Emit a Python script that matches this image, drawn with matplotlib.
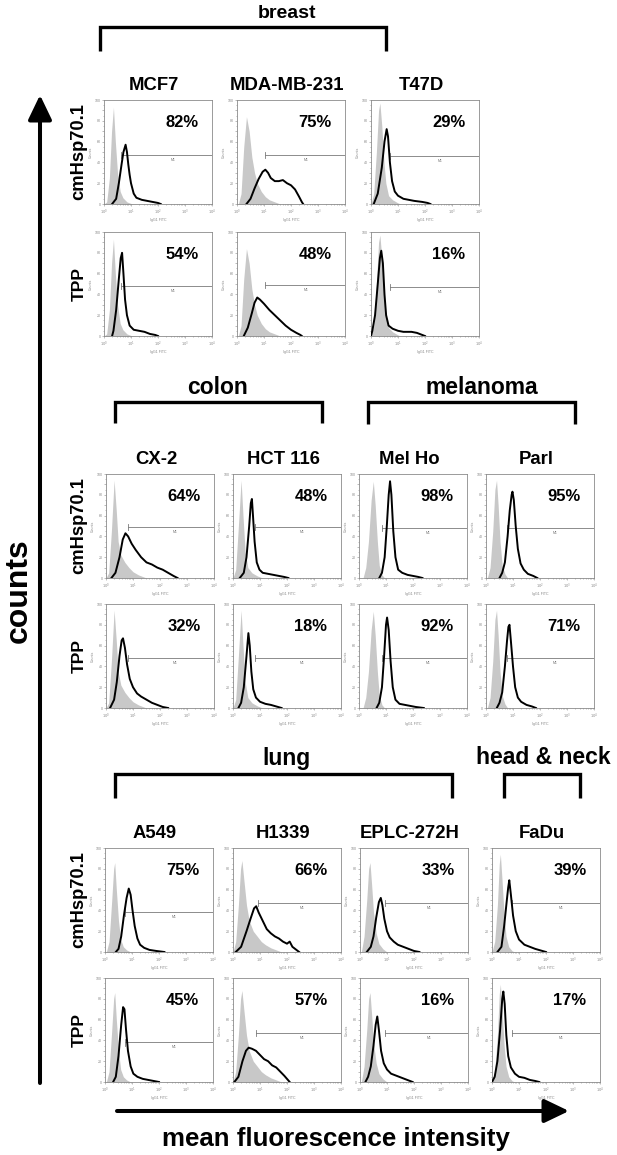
import matplotlib.pyplot as plt
from matplotlib.ticker import FixedLocator, LogLocator, NullFormatter

plt.rcParams['font.family'] = ['Liberation Sans', 'DejaVu Sans']

# ---- data: (log10 fluorescence, counts in % of full scale) ----
groups = ['breast', 'colon', 'melanoma', 'lung', 'head & neck']
cell_lines = ['MCF7', 'MDA-MB-231', 'T47D', 'CX-2', 'HCT 116', 'Mel Ho', 'Parl',
              'A549', 'H1339', 'EPLC-272H', 'FaDu']
rows = ['cmHsp70.1', 'TPP']

pct_hsp = [82, 75, 29, 64, 48, 98, 95, 75, 66, 33, 39]
pct_tpp = [54, 48, 16, 32, 18, 92, 71, 45, 57, 16, 17]

# M1 gate: start (log10) and height (% of full scale)
m1_start_hsp = [0.62, 1.05, 0.69, 0.82, 0.82, 0.86, 0.76, 0.73, 0.93, 0.92, 0.74]
m1_start_tpp = [0.62, 1.05, 0.69, 0.82, 0.82, 0.86, 0.76, 0.75, 0.84, 0.92, 0.74]
m1_y_hsp = [47, 47, 46, 49, 49, 48, 48, 38, 47, 47, 47]
m1_y_tpp = [48, 49, 47, 48, 48, 48, 48, 38, 47, 47, 47]

# isotype controls (grey)
mcf7_ctrl = [(0.0, 0), (0.1, 2), (0.2, 25), (0.28, 70), (0.35, 93), (0.42, 60), (0.5, 30),
             (0.6, 12), (0.7, 6), (0.85, 2), (1.0, 0.5), (1.2, 0)]
mda_ctrl = [(0.05, 0), (0.15, 10), (0.25, 55), (0.35, 84), (0.45, 70), (0.55, 45), (0.65, 30),
            (0.75, 20), (0.9, 12), (1.05, 7), (1.2, 4), (1.4, 2), (1.6, 0)]
t47d_ctrl = [(0.0, 0), (0.1, 10), (0.2, 50), (0.28, 90), (0.33, 97), (0.4, 75), (0.48, 40),
             (0.55, 20), (0.65, 8), (0.8, 4), (1.0, 1), (1.1, 0)]
cx2_ctrl = [(0.0, 0), (0.1, 5), (0.2, 45), (0.3, 94), (0.38, 65), (0.45, 35), (0.55, 22),
            (0.7, 15), (0.85, 10), (1.0, 6), (1.2, 3), (1.4, 1), (1.5, 0)]
hct_ctrl = [(0.0, 0), (0.1, 8), (0.2, 50), (0.3, 94), (0.37, 60), (0.45, 25), (0.55, 10),
            (0.7, 5), (0.9, 2), (1.1, 0)]
melho_ctrl = [(0.15, 0), (0.25, 10), (0.35, 35), (0.45, 75), (0.53, 93), (0.6, 70), (0.68, 35),
              (0.75, 12), (0.85, 3), (0.95, 0)]
parl_ctrl = [(0.05, 0), (0.15, 10), (0.25, 45), (0.33, 85), (0.39, 94), (0.45, 70), (0.52, 35),
             (0.6, 12), (0.7, 4), (0.8, 0)]
a549_ctrl = [(0.05, 0), (0.15, 10), (0.25, 50), (0.32, 80), (0.36, 86), (0.42, 60), (0.5, 30),
             (0.58, 12), (0.68, 5), (0.8, 2), (0.95, 0)]
h1339_ctrl = [(0.0, 0), (0.1, 10), (0.2, 45), (0.28, 80), (0.33, 88), (0.4, 70), (0.5, 45),
              (0.6, 30), (0.75, 20), (0.9, 15), (1.05, 10), (1.2, 7), (1.4, 4), (1.6, 2), (1.8, 0)]
eplc_ctrl = [(0.05, 0), (0.15, 15), (0.25, 50), (0.32, 80), (0.37, 86), (0.43, 65), (0.5, 38),
             (0.6, 18), (0.7, 8), (0.85, 3), (1.0, 0)]
fadu_ctrl = [(0.0, 0), (0.1, 10), (0.2, 45), (0.27, 85), (0.31, 94), (0.37, 70), (0.45, 35),
             (0.52, 15), (0.62, 5), (0.75, 1), (0.85, 0)]

# cmHsp70.1 stained (black)
mcf7_hsp = [(0.3, 0), (0.45, 5), (0.55, 20), (0.65, 38), (0.72, 50), (0.8, 57), (0.85, 50),
            (0.9, 38), (0.95, 28), (1.0, 20), (1.1, 10), (1.2, 6), (1.4, 4), (1.6, 3), (1.8, 2),
            (2.0, 1), (2.1, 0)]
mda_hsp = [(0.35, 0), (0.5, 5), (0.65, 15), (0.8, 24), (0.95, 31), (1.05, 33), (1.15, 30),
           (1.25, 25), (1.4, 22), (1.55, 22), (1.7, 23), (1.85, 20), (2.0, 18), (2.15, 14),
           (2.3, 7), (2.4, 2), (2.45, 0)]
t47d_hsp = [(0.1, 0), (0.25, 10), (0.4, 35), (0.5, 60), (0.58, 72), (0.63, 65), (0.7, 40),
            (0.78, 22), (0.88, 12), (1.0, 8), (1.2, 5), (1.4, 4), (1.6, 3), (1.9, 2), (2.1, 1),
            (2.2, 0)]
cx2_hsp = [(0.2, 0), (0.35, 5), (0.5, 20), (0.62, 37), (0.72, 43), (0.82, 40), (0.95, 33),
           (1.1, 27), (1.3, 20), (1.5, 15), (1.7, 13), (1.9, 10), (2.1, 8), (2.3, 5), (2.5, 2),
           (2.65, 0)]
hct_hsp = [(0.25, 0), (0.4, 5), (0.5, 20), (0.6, 50), (0.66, 72), (0.7, 76), (0.74, 60),
           (0.8, 35), (0.88, 15), (0.98, 8), (1.1, 5), (1.3, 4), (1.5, 3), (1.7, 2), (1.9, 1),
           (2.05, 0)]
melho_hsp = [(0.75, 0), (0.85, 5), (0.95, 20), (1.03, 50), (1.1, 80), (1.15, 93), (1.2, 80),
             (1.27, 45), (1.35, 20), (1.45, 8), (1.6, 5), (1.8, 3), (2.0, 2), (2.2, 1), (2.35, 0)]
parl_hsp = [(0.5, 0), (0.6, 5), (0.7, 15), (0.8, 40), (0.88, 65), (0.95, 80), (0.98, 83),
            (1.03, 75), (1.1, 50), (1.18, 28), (1.28, 14), (1.4, 8), (1.55, 4), (1.75, 2),
            (1.9, 0)]
a549_hsp = [(0.4, 0), (0.5, 3), (0.6, 15), (0.7, 35), (0.8, 52), (0.88, 61), (0.95, 55),
            (1.02, 40), (1.1, 25), (1.2, 13), (1.3, 7), (1.45, 4), (1.65, 2), (1.9, 1), (2.2, 0)]
h1339_hsp = [(0.1, 0), (0.3, 5), (0.5, 20), (0.65, 32), (0.78, 42), (0.86, 44), (0.95, 38),
             (1.1, 30), (1.25, 22), (1.4, 18), (1.55, 15), (1.7, 13), (1.85, 10), (2.0, 8),
             (2.1, 10), (2.2, 5), (2.35, 2), (2.45, 0)]
eplc_hsp = [(0.25, 0), (0.4, 5), (0.5, 15), (0.6, 33), (0.7, 48), (0.77, 52), (0.83, 45),
            (0.9, 32), (1.0, 20), (1.1, 14), (1.25, 10), (1.4, 7), (1.6, 5), (1.8, 3), (2.0, 1),
            (2.2, 0)]
fadu_hsp = [(0.2, 0), (0.35, 5), (0.45, 25), (0.55, 50), (0.6, 62), (0.64, 69), (0.7, 55),
            (0.78, 35), (0.88, 20), (1.0, 12), (1.2, 7), (1.4, 5), (1.6, 3), (1.8, 1.5), (2.0, 0)]

# TPP stained (black)
mcf7_tpp = [(0.3, 0), (0.35, 5), (0.45, 25), (0.55, 55), (0.62, 75), (0.67, 80), (0.72, 60),
            (0.78, 35), (0.85, 20), (0.95, 10), (1.1, 6), (1.3, 5), (1.5, 4), (1.7, 2), (1.9, 1),
            (2.0, 0)]
mda_tpp = [(0.25, 0), (0.4, 8), (0.55, 22), (0.65, 32), (0.75, 37), (0.85, 35), (1.0, 31),
           (1.2, 25), (1.4, 20), (1.6, 15), (1.8, 10), (2.0, 6), (2.2, 3), (2.35, 1), (2.4, 0)]
t47d_tpp = [(0.0, 0), (0.05, 5), (0.15, 20), (0.25, 50), (0.33, 75), (0.38, 82), (0.44, 70),
            (0.5, 40), (0.56, 20), (0.65, 10), (0.8, 7), (1.0, 5), (1.2, 4), (1.5, 4), (1.7, 3),
            (1.9, 1), (2.0, 0)]
cx2_tpp = [(0.15, 0), (0.3, 8), (0.4, 25), (0.5, 50), (0.58, 65), (0.63, 67), (0.7, 58),
           (0.78, 42), (0.88, 28), (1.0, 20), (1.15, 14), (1.3, 11), (1.5, 8), (1.7, 5), (1.9, 3),
           (2.1, 1), (2.3, 0)]
hct_tpp = [(0.2, 0), (0.3, 5), (0.4, 20), (0.5, 50), (0.57, 72), (0.62, 60), (0.68, 35),
           (0.75, 18), (0.85, 10), (1.0, 6), (1.2, 4), (1.4, 3), (1.6, 1.5), (1.8, 0)]
melho_tpp = [(0.65, 0), (0.75, 5), (0.85, 20), (0.93, 50), (1.0, 80), (1.04, 87), (1.1, 75),
             (1.17, 45), (1.25, 20), (1.35, 8), (1.5, 4), (1.7, 3), (1.9, 2), (2.1, 1), (2.4, 0)]
parl_tpp = [(0.4, 0), (0.5, 5), (0.6, 15), (0.7, 40), (0.78, 65), (0.83, 78), (0.87, 80),
            (0.92, 65), (1.0, 40), (1.08, 20), (1.18, 10), (1.3, 6), (1.5, 3), (1.7, 1.5),
            (1.85, 0)]
a549_tpp = [(0.3, 0), (0.4, 5), (0.5, 25), (0.6, 55), (0.67, 72), (0.72, 70), (0.78, 50),
            (0.85, 30), (0.95, 15), (1.05, 8), (1.2, 5), (1.4, 3), (1.6, 2), (1.8, 1), (2.0, 0)]
h1339_tpp = [(0.05, 0), (0.2, 5), (0.35, 20), (0.48, 30), (0.58, 33), (0.7, 32), (0.85, 30),
             (1.0, 26), (1.15, 22), (1.3, 20), (1.45, 16), (1.6, 14), (1.75, 10), (1.9, 6),
             (2.0, 3), (2.1, 0)]
eplc_tpp = [(0.2, 0), (0.3, 5), (0.4, 15), (0.5, 35), (0.58, 55), (0.64, 63), (0.7, 50),
            (0.78, 30), (0.88, 18), (1.0, 12), (1.15, 8), (1.35, 6), (1.55, 4), (1.75, 2),
            (1.95, 0)]
fadu_tpp = [(0.0, 0), (0.1, 5), (0.2, 20), (0.3, 50), (0.38, 80), (0.42, 87), (0.47, 75),
            (0.53, 45), (0.6, 25), (0.7, 14), (0.85, 8), (1.0, 5), (1.2, 4), (1.4, 2), (1.6, 1),
            (1.75, 0)]

ctrl = [mcf7_ctrl, mda_ctrl, t47d_ctrl, cx2_ctrl, hct_ctrl, melho_ctrl, parl_ctrl,
        a549_ctrl, h1339_ctrl, eplc_ctrl, fadu_ctrl]
hsp = [mcf7_hsp, mda_hsp, t47d_hsp, cx2_hsp, hct_hsp, melho_hsp, parl_hsp,
       a549_hsp, h1339_hsp, eplc_hsp, fadu_hsp]
tpp = [mcf7_tpp, mda_tpp, t47d_tpp, cx2_tpp, hct_tpp, melho_tpp, parl_tpp,
       a549_tpp, h1339_tpp, eplc_tpp, fadu_tpp]

# ---- layout (pixels, origin top-left) ----
W, H = 617, 1155
PW, PH = 108, 104
sections = [
    # (cell line indices, column lefts, top of cmHsp row, top of TPP row, title y)
    ([0, 1, 2], [104, 237, 371], 100, 232, 85),
    ([3, 4, 5, 6], [106, 233, 359, 486], 474, 604, 459),
    ([7, 8, 9, 10], [105, 233, 360, 492], 848, 978, 833),
]
# group label, text x, text y, bracket x0, x1, bracket top, bracket bottom, font size
brackets = [
    (0, 287, 13, 100, 386, 27, 51, 14),
    (1, 217, 388, 115, 322, 402, 423, 16.5),
    (2, 482, 388, 368, 575, 402, 424, 16.5),
    (3, 287, 758, 115, 452, 774, 798, 16.5),
    (4, 543, 758, 504, 580, 774, 798, 16.5),
]

GREY = '#c8c8c8'
FRAME = '#8a8a8a'


def draw_panel(ax, ctrl_pts, pts, m1_start, m1_y, pct):
    ax.fill_between([10 ** p[0] for p in ctrl_pts], [p[1] for p in ctrl_pts],
                    color=GREY, lw=0, zorder=1)
    ax.plot([10 ** p[0] for p in pts], [p[1] for p in pts], color='black', lw=1.4, zorder=3)
    # M1 gate
    ax.plot([10 ** m1_start, 1e4], [m1_y, m1_y], color='#7a7a7a', lw=0.6, zorder=2)
    ax.plot([10 ** m1_start] * 2, [m1_y - 3, m1_y + 3], color='#7a7a7a', lw=0.6, zorder=2)
    ax.text(10 ** 2.55, m1_y - 2.5, 'M1', fontsize=2.5, color='#777777', ha='center', va='top')
    ax.text(0.72, 0.78, '%d%%' % pct, transform=ax.transAxes, fontsize=11.9,
            fontweight='bold', ha='center', va='center')
    ax.set_xscale('log')
    ax.set_xlim(1, 1e4)
    ax.set_ylim(0, 100)
    ax.xaxis.set_major_locator(FixedLocator([1, 10, 100, 1000, 10000]))
    ax.xaxis.set_minor_locator(LogLocator(base=10, subs=range(2, 10)))
    ax.xaxis.set_minor_formatter(NullFormatter())
    ax.set_xticklabels(['$10^0$', '$10^1$', '$10^2$', '$10^3$', '$10^4$'])
    ax.set_yticks(range(0, 101, 10))
    ax.set_yticks(range(0, 101, 5), minor=True)
    ax.set_yticklabels(['0', '', '20', '', '40', '', '60', '', '80', '', '100'])
    ax.tick_params(which='both', labelsize=2.6, colors=FRAME, labelcolor='#888888',
                   length=1.5, width=0.4, pad=1)
    ax.tick_params(which='minor', length=0.8)
    ax.set_xlabel('IgG1 FITC', fontsize=2.6, color='#888888', labelpad=1)
    ax.set_ylabel('Counts', fontsize=2.6, color='#888888', labelpad=1)
    for s in ax.spines.values():
        s.set_color(FRAME)
        s.set_linewidth(0.6)


fig = plt.figure(figsize=(W / 100, H / 100), dpi=100)
deco = fig.add_axes([0, 0, 1, 1])
deco.set_xlim(0, W)
deco.set_ylim(H, 0)
deco.axis('off')

for idx, lefts, top_hsp, top_tpp, title_y in sections:
    for i, x0 in zip(idx, lefts):
        for top, pts, pcts, m1s, m1y in ((top_hsp, hsp, pct_hsp, m1_start_hsp, m1_y_hsp),
                                         (top_tpp, tpp, pct_tpp, m1_start_tpp, m1_y_tpp)):
            ax = fig.add_axes([x0 / W, 1 - (top + PH) / H, PW / W, PH / H])
            draw_panel(ax, ctrl[i], pts[i], m1s[i], m1y[i], pcts[i])
        deco.text(x0 + PW / 2 - 4, title_y, cell_lines[i], fontsize=13.3,
                  fontweight='bold', ha='center', va='center')
    # row labels
    deco.text(79, top_hsp + PH / 2, rows[0], rotation=90, fontsize=13.2,
              fontweight='bold', ha='center', va='center')
    deco.text(79, top_tpp + PH / 2, rows[1], rotation=90, fontsize=12.5,
              fontweight='bold', ha='center', va='center')

for g, tx, ty, bx0, bx1, byt, byb, fs in brackets:
    deco.text(tx, ty, groups[g], fontsize=fs, fontweight='bold', ha='center', va='center')
    deco.plot([bx0, bx0, bx1, bx1], [byb, byt, byt, byb], color='black', lw=2.4,
              solid_joinstyle='miter', solid_capstyle='butt')

# axis arrows
arrow = dict(arrowstyle='-|>,head_length=0.75,head_width=0.36', color='black', lw=2.9,
             mutation_scale=20, shrinkA=0, shrinkB=0)
deco.annotate('', xy=(40, 95), xytext=(40, 1083), arrowprops=arrow)
deco.annotate('', xy=(569, 1111), xytext=(117, 1111), arrowprops=arrow)
deco.text(19, 591, 'counts', rotation=90, fontsize=23, fontweight='bold',
          ha='center', va='center')
deco.text(336, 1139, 'mean fluorescence intensity', fontsize=18.6, fontweight='bold',
          ha='center', va='center')

fig.savefig('out.png', dpi=100)
